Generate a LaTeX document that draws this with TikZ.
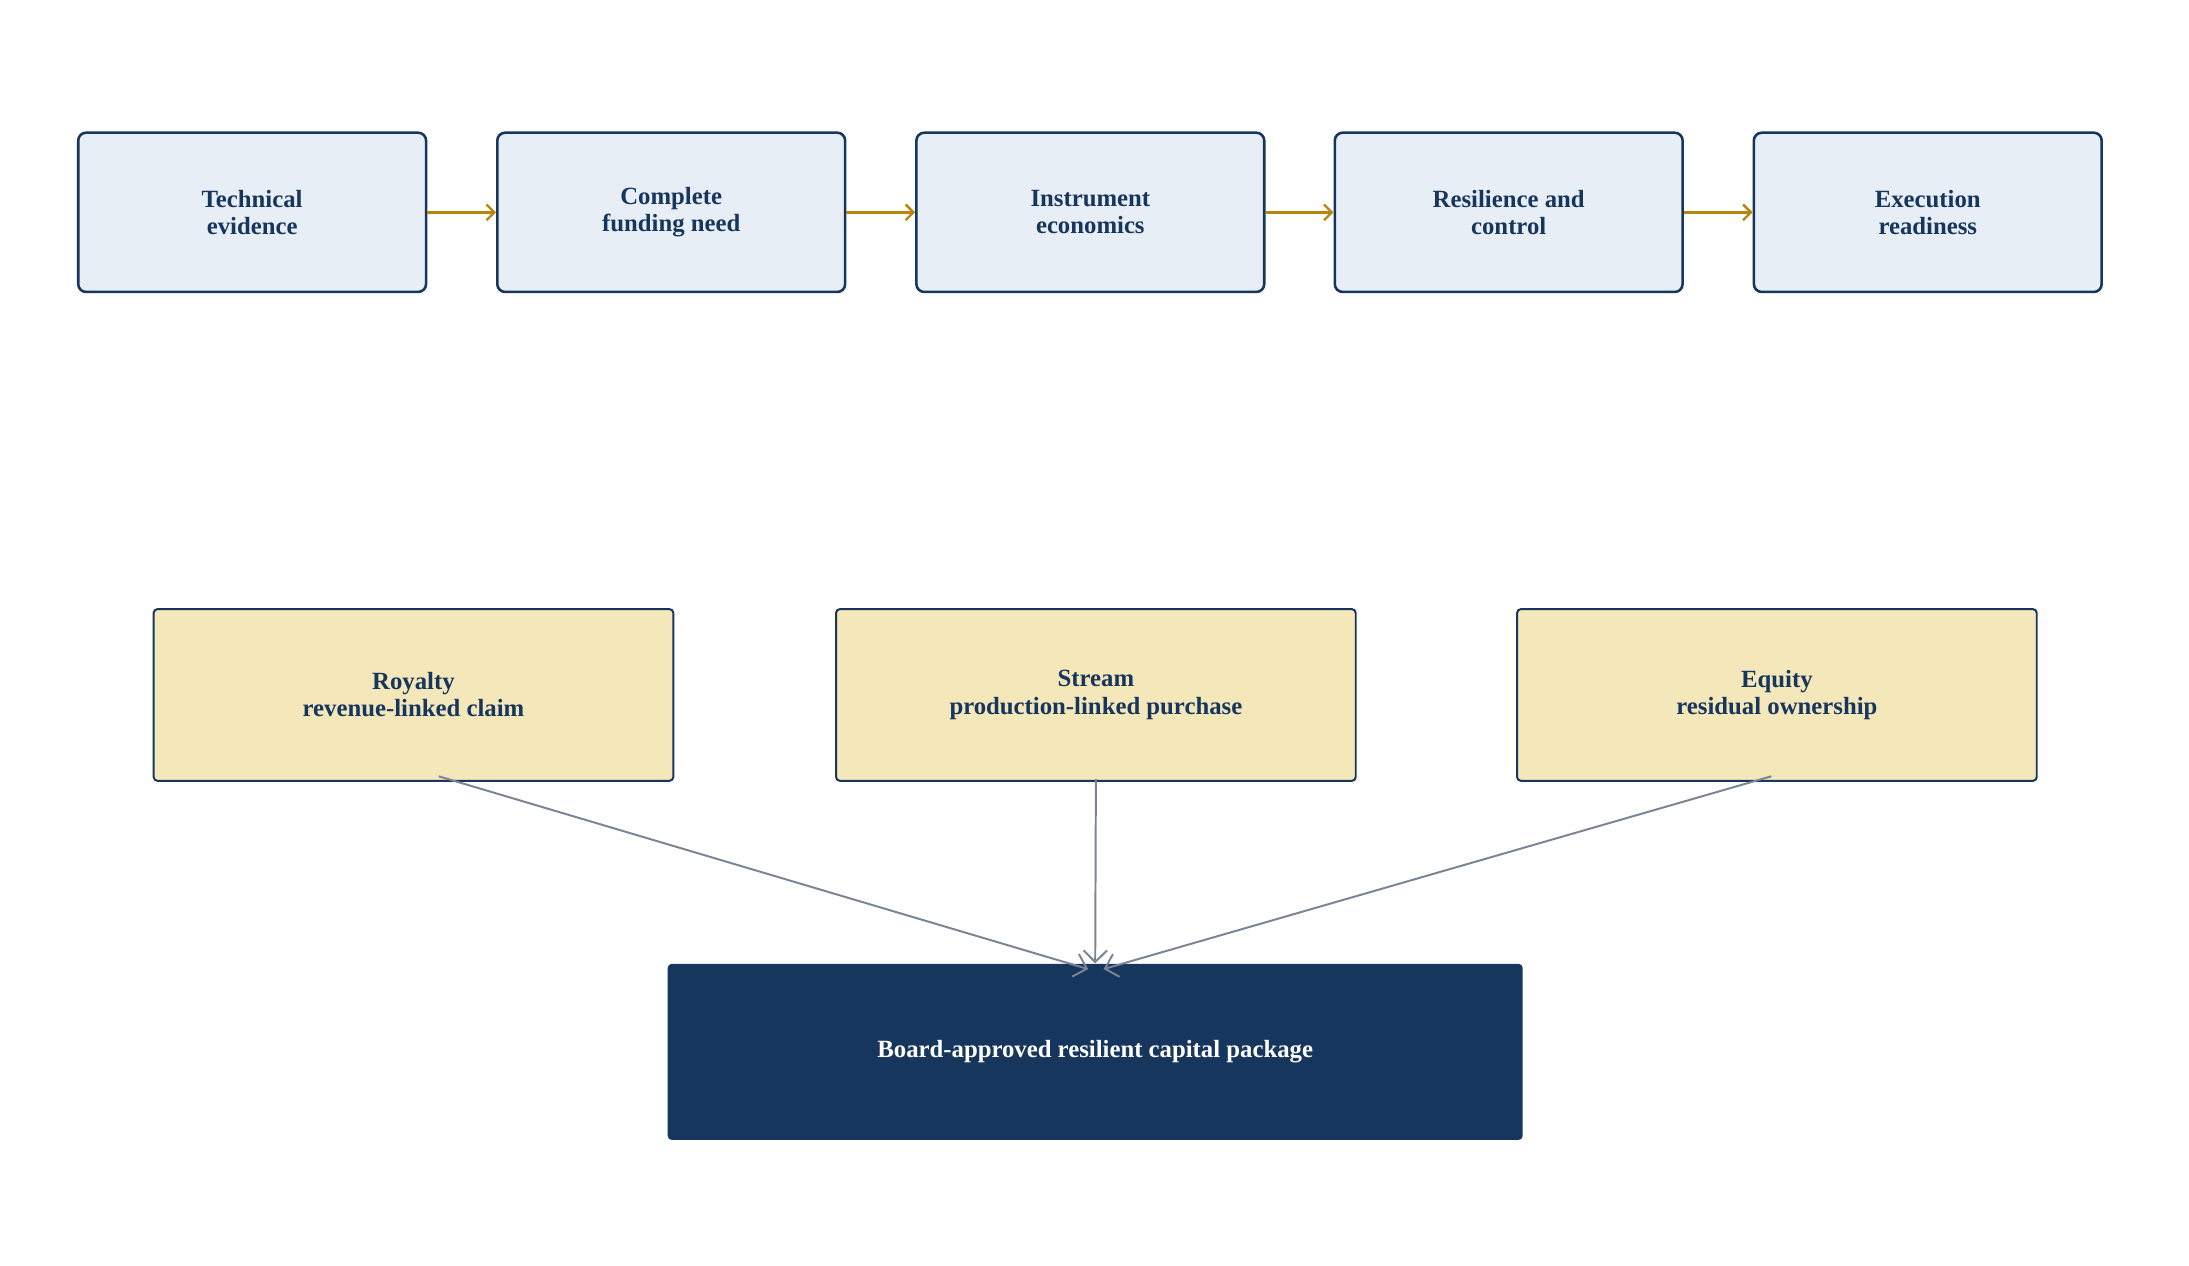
\documentclass[tikz,border=0pt]{standalone}
\usepackage{fontspec}
\setmainfont{Liberation Serif}
\usetikzlibrary{arrows.meta,calc}
\definecolor{navy}{HTML}{17365D}
\definecolor{paleblue}{HTML}{E8EEF6}
\definecolor{sand}{HTML}{F4E7B9}
\definecolor{gold}{HTML}{B8860B}
\definecolor{slate}{HTML}{7A8494}
\begin{document}
\begin{tikzpicture}[
    x=0.025cm, y=-0.025cm,
    every node/.style={align=center, font=\fontsize{12.6}{13.8}\selectfont\bfseries},
    stagebox/.style={draw=navy, line width=1.3pt, fill=paleblue, rounded corners=4pt, minimum width=249*0.025cm, minimum height=114*0.025cm, text=navy},
    optionbox/.style={draw=navy, line width=1pt, fill=sand, rounded corners=2pt, minimum width=372*0.025cm, minimum height=123*0.025cm, text=navy},
    resultbox/.style={fill=navy, rounded corners=2pt, minimum width=612*0.025cm, minimum height=126*0.025cm, text=white},
    step arrow/.style={draw=gold, line width=1.2pt, -{Straight Barb[length=4pt]}},
    feed arrow/.style={draw=slate, line width=1pt, -{Straight Barb[length=6pt]}},
    ]
\useasboundingbox (0,0) rectangle (1567,906);
\node[stagebox] (tech) at (180.5,152) {Technical\\evidence};
\node[stagebox] (need) at (480.5,152) {Complete\\funding need};
\node[stagebox] (econ) at (780.5,152) {Instrument\\economics};
\node[stagebox] (resil) at (1080,152) {Resilience and\\control};
\node[stagebox] (exec) at (1380,152) {Execution\\readiness};
\draw[step arrow] (tech) -- (need);
\draw[step arrow] (need) -- (econ);
\draw[step arrow] (econ) -- (resil);
\draw[step arrow] (resil) -- (exec);
\node[optionbox] (royalty) at (296,497.5) {Royalty\\revenue-linked claim};
\node[optionbox] (stream) at (784.5,497.5) {Stream\\production-linked purchase};
\node[optionbox] (equity) at (1272,497.5) {Equity\\residual ownership};
\node[resultbox] (package) at (784,753) {Board-approved resilient capital package};
\draw[feed arrow] ($(royalty.south)+(18,-4)$) -- ($(package.north)+(-5,4)$);
\draw[feed arrow] ($(stream.south)+(0,-2)$) -- (package.north);
\draw[feed arrow] ($(equity.south)+(-4,-4)$) -- ($(package.north)+(6,4)$);
\end{tikzpicture}
\end{document}
